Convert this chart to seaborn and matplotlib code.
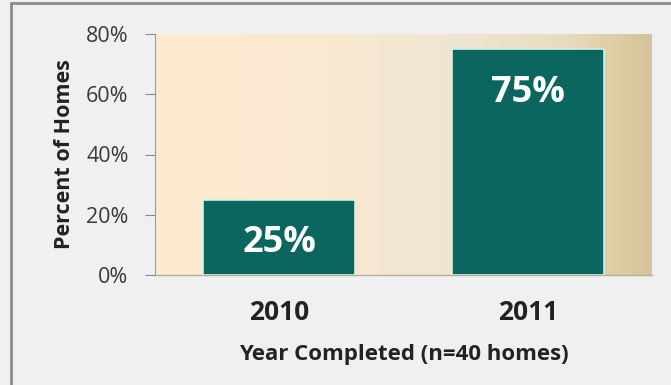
import matplotlib
matplotlib.use("Agg")
import matplotlib.pyplot as plt
import seaborn as sns
import numpy as np
import pandas as pd
from matplotlib.colors import LinearSegmentedColormap
from matplotlib.lines import Line2D

years = ["2010", "2011"]
percents = [25, 75]
yticks = [0, 20, 40, 60, 80]
ytick_labels = ["0%", "20%", "40%", "60%", "80%"]
value_labels = ["25%", "75%"]

sns.set_theme(style="white")
plt.rcParams['font.family'] = ['Open Sans', 'DejaVu Sans']

fig = plt.figure(figsize=(6.71, 3.85), dpi=100, facecolor="#f0f0f0")
ax = fig.add_axes([155/671, 1-275/385, (652-155)/671, (275-34)/385])
ax.set_facecolor("none")

df = pd.DataFrame({"year": years, "pct": percents})
sns.barplot(data=df, x="year", y="pct", color="#0b6660", saturation=1,
            width=0.61, edgecolor="#d5eee4", linewidth=1.2, ax=ax, zorder=3)

# gradient background
cmap = LinearSegmentedColormap.from_list("bg", [
    (0.0, "#fdebd1"), (0.35, "#f9e9d0"), (0.6, "#efe6d3"),
    (0.82, "#e8dcc0"), (0.9, "#e2d0aa"), (1.0, "#d4c49a")])
grad = np.linspace(0, 1, 256).reshape(1, -1)
ax.imshow(grad, extent=[0, 1, 0, 1], transform=ax.transAxes, aspect="auto",
          cmap=cmap, zorder=0)

ax.set_xlim(-0.5, 1.5)
ax.set_ylim(0, 80)
ax.set_yticks(yticks)
ax.set_yticklabels(ytick_labels, fontsize=15.5, color="#3a3a3a")
ax.tick_params(axis="y", direction="out", length=7, width=0.8, color="#888888", pad=12, left=True)
ax.tick_params(axis="x", length=0, pad=17)
for lbl in ax.get_xticklabels():
    lbl.set_fontsize(19)
    lbl.set_fontweight("bold")
    lbl.set_color("#222222")

for i, (v, t) in enumerate(zip(percents, value_labels)):
    ax.text(i, v - 14.5, t, ha="center", va="center", color="white",
            fontsize=26, fontweight="bold", zorder=5)

ax.set_xlabel("Year Completed (n=40 homes)", fontsize=16, fontweight="bold",
              color="#222222", labelpad=13)
ax.set_ylabel("Percent of Homes", fontsize=15.5, fontweight="bold",
              color="#222222", labelpad=8)

for s in ["top", "right"]:
    ax.spines[s].set_visible(False)
ax.spines["left"].set_color("#999999")
ax.spines["left"].set_linewidth(0.8)
ax.spines["bottom"].set_color("#b8ad98")
ax.spines["bottom"].set_linewidth(1)

# outer frame
fig.add_artist(Line2D([11/671, 11/671], [0, 1-3/385], transform=fig.transFigure,
                      color="#8a8a8a", lw=2))
fig.add_artist(Line2D([11/671, 1], [1-3/385, 1-3/385], transform=fig.transFigure,
                      color="#8a8a8a", lw=2))

fig.savefig("out.png", dpi=100, facecolor=fig.get_facecolor())
